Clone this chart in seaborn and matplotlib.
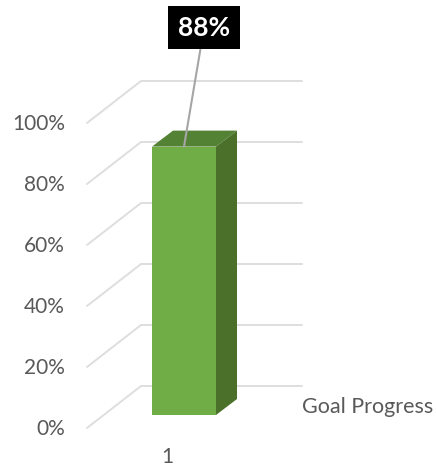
import pandas as pd
import matplotlib.pyplot as plt
import seaborn as sns

# Data
categories = ["1"]
progress = [88]
ticks = [0, 20, 40, 60, 80, 100]
tick_labels = ["0%", "20%", "40%", "60%", "80%", "100%"]
series_name = "Goal Progress"

df = pd.DataFrame({"cat": categories, "value": progress})

sns.set_theme(style="white")
plt.rcParams['font.family'] = ['Lato', 'DejaVu Sans']

W, H = 436, 469
fig = plt.figure(figsize=(W / 100, H / 100), dpi=100)
ax = fig.add_axes([0, 0, 1, 1])

# one value unit is 3.05 px, one category unit is 128 px, bar centre at px 184
sns.barplot(x="cat", y="value", data=df, color="#70ad47", saturation=1, width=0.5,
            linewidth=0, ax=ax, zorder=3)
ax.set_xlim(-184 / 128, (W - 184) / 128)
ax.set_ylim((415 - H) / 3.05, 415 / 3.05)
ax.axis("off")

def px_x(p):
    return (p - 184) / 128

def px_dy(p):
    return p / 3.05

# fake 3D gridlines, front corner / back corner / right end
front_shift = px_dy(415 - 428)
back_shift = px_dy(415 - 386)
for t, lab in zip(ticks, tick_labels):
    ax.plot([px_x(87), px_x(141), px_x(302)],
            [t + front_shift, t + back_shift, t + back_shift],
            color="#dedede", lw=1.4, zorder=1, solid_joinstyle="miter")
    ax.text(px_x(65), t + front_shift - px_dy(1), lab, ha="right", va="center", fontsize=15, color="#595959")

# top and side faces of the bar
bar = ax.patches[0]
x0, x1 = bar.get_x(), bar.get_x() + bar.get_width()
top = bar.get_height()
dx = 21 / 128
dy = px_dy(16)
ax.fill([x0, x1, x1 + dx, x0 + dx], [top, top, top + dy, top + dy], color="#548235", lw=0, zorder=4)
ax.fill([x1, x1 + dx, x1 + dx, x1], [0, dy, top + dy, top], color="#4a7029", lw=0, zorder=4)

# data label with leader line
ax.annotate(f"{progress[0]}%", xy=(0, top), xytext=(px_x(204), px_dy(415 - 28)),
            ha="center", va="center", fontsize=19, fontweight="bold", color="white",
            bbox=dict(boxstyle="square,pad=0.36", fc="black", ec="none"),
            arrowprops=dict(arrowstyle="-", color="#a6a6a6", lw=1.5, shrinkA=0, shrinkB=0),
            zorder=6)

ax.text(px_x(302), px_dy(415 - 407), series_name, ha="left", va="center", fontsize=15.5, color="#595959")
ax.text(px_x(167), px_dy(415 - 457), categories[0], ha="center", va="center", fontsize=15, color="#595959")

plt.savefig("out.png", dpi=100)
